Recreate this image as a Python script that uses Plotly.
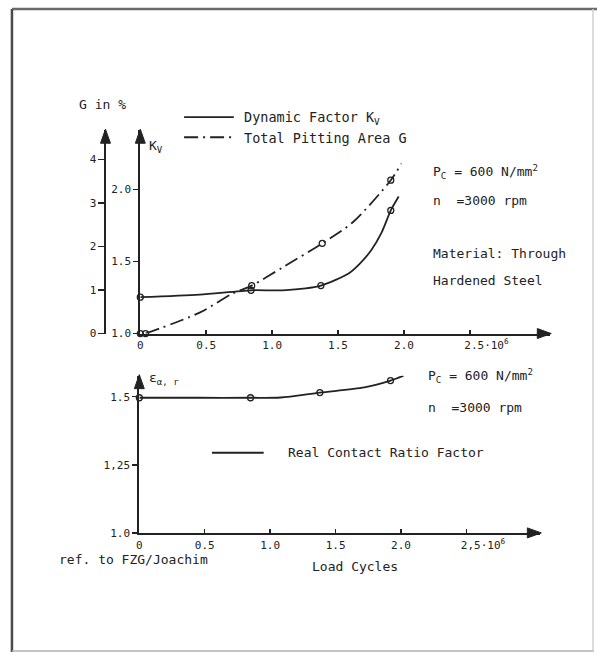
import plotly.graph_objects as go

W = 597
# the photographed page comes out ~1.2 % shorter vertically than laid out,
# so the layout is drawn a little taller to land on the reference positions
SY = 653 / 645.0
H = 661

# ---------------- data ----------------
# Top panel: dynamic factor Kv (left inner axis) and total pitting area G in % (outer axis)
kv_x = [0.0, 0.45, 0.84, 1.08, 1.37, 1.58, 1.66, 1.75, 1.83, 1.90, 1.96]
kv_y = [1.252, 1.27, 1.30, 1.30, 1.333, 1.417, 1.48, 1.576, 1.70, 1.854, 1.95]
kv_mx = [0.0, 0.84, 1.37, 1.90]
kv_my = [1.252, 1.30, 1.333, 1.854]

g_x = [0.04, 0.45, 0.70, 0.845, 1.08, 1.38, 1.61, 1.90, 1.98]
g_y = [0.0, 0.48, 0.92, 1.10, 1.52, 2.07, 2.55, 3.52, 3.90]
g_mx = [0.0, 0.04, 0.845, 1.38, 1.90]
g_my = [0.0, 0.0, 1.10, 2.07, 3.52]

# Bottom panel: real contact ratio factor
eps_x = [0.0, 0.45, 0.85, 1.08, 1.38, 1.72, 1.92, 2.02]
eps_y = [1.496, 1.496, 1.496, 1.497, 1.515, 1.534, 1.559, 1.577]
eps_mx = [0.0, 0.85, 1.38, 1.92]
eps_my = [1.496, 1.496, 1.515, 1.559]

x_tickvals = [0, 0.5, 1.0, 1.5, 2.0, 2.5]
x_ticktext_top = ["0", "0.5", "1.0", "1.5", "2.0",
                  "\u00a0\u00a0\u00a0\u00a0\u00a02.5\u00b710<sup>6</sup>"]
x_ticktext_bot = ["0", "0.5", "1.0", "1.5", "2.0",
                  "\u00a0\u00a0\u00a0\u00a0\u00a02,5\u00b710<sup>6</sup>"]
kv_tickvals = [1.0, 1.5, 2.0]
kv_ticktext = ["1.0", "1.5", "2.0"]
g_tickvals = [0, 1, 2, 3, 4]
g_ticktext = ["0", "1", "2", "3", "4"]
eps_tickvals = [1.0, 1.25, 1.5]
eps_ticktext = ["1.0", "1,25", "1.5"]

# ---------------- styling helpers ----------------
FONT = "DejaVu Sans Mono"
INK = "#222222"
TXT = "#222222"


def px(x):
    return x / W


def py(y):
    return 1 - y * SY / H


fig = go.Figure()

line_style = dict(color=INK, width=1.8)
marker_style = dict(symbol="circle-open", size=6, color=INK, line=dict(width=1.3, color=INK))
DASHDOT = "14px,5px,2px,5px"

fig.add_trace(go.Scatter(x=kv_x, y=kv_y, mode="lines", line=dict(**line_style, shape="spline", smoothing=0.7),
                         xaxis="x", yaxis="y", cliponaxis=False, showlegend=False))
fig.add_trace(go.Scatter(x=kv_mx, y=kv_my, mode="markers", marker=marker_style,
                         xaxis="x", yaxis="y", cliponaxis=False, showlegend=False))
fig.add_trace(go.Scatter(x=g_x, y=g_y, mode="lines",
                         line=dict(color=INK, width=1.8, dash=DASHDOT, shape="spline", smoothing=0.8),
                         xaxis="x", yaxis="y2", cliponaxis=False, showlegend=False))
fig.add_trace(go.Scatter(x=g_mx, y=g_my, mode="markers", marker=marker_style,
                         xaxis="x", yaxis="y2", cliponaxis=False, showlegend=False))
fig.add_trace(go.Scatter(x=eps_x, y=eps_y, mode="lines", line=dict(**line_style, shape="spline", smoothing=0.8),
                         xaxis="x2", yaxis="y3", cliponaxis=False, showlegend=False))
fig.add_trace(go.Scatter(x=eps_mx, y=eps_my, mode="markers", marker=marker_style,
                         xaxis="x2", yaxis="y3", cliponaxis=False, showlegend=False))

tickfont = dict(family=FONT, size=11, color=TXT)
axis_common = dict(showgrid=False, zeroline=False, showline=True, linecolor=INK, linewidth=2,
                   tickcolor=INK, tickwidth=1.5, tickfont=tickfont, tickmode="array", fixedrange=True)

top_y0, top_y1 = 333, 130
bot_y0, bot_y1 = 532, 375

fig.update_layout(
    width=W, height=H, autosize=False,
    margin=dict(l=0, r=0, t=0, b=0),
    paper_bgcolor="white", plot_bgcolor="rgba(0,0,0,0)",
    xaxis=dict(**axis_common, domain=[px(138), px(550)], range=[0, (550 - 138) / 132.5],
               anchor="y", tickvals=x_tickvals, ticktext=x_ticktext_top, ticks="inside", ticklen=4,
               ticklabelstandoff=0),
    yaxis=dict(**axis_common, domain=[py(top_y0), py(top_y1)], range=[1.0, 1 + (top_y0 - top_y1) / 144],
               anchor="x", tickvals=kv_tickvals, ticktext=kv_ticktext, ticks="outside", ticklen=5),
    yaxis2=dict(**axis_common, overlaying="y", anchor="free", position=px(103), side="left",
                range=[0, (top_y0 - top_y1) / 43.5], tickvals=g_tickvals, ticktext=g_ticktext,
                ticks="outside", ticklen=6),
    xaxis2=dict(**axis_common, domain=[px(137), px(540)], range=[0, (540 - 137) / 131.5],
                anchor="y3", tickvals=x_tickvals, ticktext=x_ticktext_bot, ticks="inside", ticklen=4,
                ticklabelstandoff=1),
    yaxis3=dict(**axis_common, domain=[py(bot_y0), py(bot_y1)], range=[1.0, 1 + (bot_y0 - bot_y1) / 272],
                anchor="x2", tickvals=eps_tickvals, ticktext=eps_ticktext, ticks="outside", ticklen=5),
)

shapes = []


def tri(tip, direction):
    x, y = tip
    if direction == "right":
        pts = [(x, y), (x - 14, y - 5), (x - 14, y + 5)]
    else:
        pts = [(x, y), (x - 5, y + 14), (x + 5, y + 14)]
    path = "M " + " L ".join(f"{px(a):.5f},{py(b):.5f}" for a, b in pts) + " Z"
    return dict(type="path", path=path, xref="paper", yref="paper",
                fillcolor=INK, line=dict(color=INK, width=1))


# axis arrowheads
shapes += [tri((551, 333), "right"), tri((138, 129), "up"), tri((103, 129), "up"),
           tri((541, 532), "right"), tri((137, 374), "up")]

# legend samples
shapes.append(dict(type="line", xref="paper", yref="paper", x0=px(182), x1=px(232), y0=py(117), y1=py(117),
                   line=dict(color=INK, width=1.8)))
shapes.append(dict(type="line", xref="paper", yref="paper", x0=px(182), x1=px(232), y0=py(137), y1=py(137),
                   line=dict(color=INK, width=1.8, dash=DASHDOT)))
shapes.append(dict(type="line", xref="paper", yref="paper", x0=px(210), x1=px(262), y0=py(452), y1=py(452),
                   line=dict(color=INK, width=1.8)))

# outer frame
shapes.append(dict(type="line", xref="paper", yref="paper", x0=px(9), x1=px(597), y0=py(9), y1=py(9),
                   line=dict(color="#6a6a6a", width=2.5)))
shapes.append(dict(type="line", xref="paper", yref="paper", x0=px(9), x1=px(9), y0=py(9), y1=py(651),
                   line=dict(color="#4a4a4a", width=2.5)))
shapes.append(dict(type="line", xref="paper", yref="paper", x0=px(9), x1=px(594), y0=py(650), y1=py(650),
                   line=dict(color="#b0b0b0", width=1.5)))
shapes.append(dict(type="line", xref="paper", yref="paper", x0=px(593), x1=px(593), y0=py(9), y1=py(650),
                   line=dict(color="#d0d0d0", width=1.5)))

fig.update_layout(shapes=shapes)


def note(text, x, y, anchor="left", size=13):
    return dict(text=text, x=px(x), y=py(y), xref="paper", yref="paper", showarrow=False,
                xanchor=anchor, yanchor="middle", font=dict(family=FONT, size=size, color=TXT))


fig.update_layout(annotations=[
    note("G in %", 100, 104, anchor="center"),
    note("K<sub>V</sub>", 145, 146),
    note("Dynamic Factor K<sub>V</sub>", 240, 118, size=13.5),
    note("Total Pitting Area G", 240, 138, size=13.5),
    note("P<sub>C</sub> = 600 N/mm<sup>2</sup>", 430, 172),
    note("n  =3000 rpm", 430, 200),
    note("Material: Through", 430, 253),
    note("Hardened Steel", 430, 280),
    note("\u03b5<sub>\u03b1, r</sub>", 145, 378),
    note("P<sub>C</sub> = 600 N/mm<sup>2</sup>", 425, 375),
    note("n  =3000 rpm", 425, 407),
    note("Real Contact Ratio Factor", 284, 452),
    note("ref. to FZG/Joachim", 54, 559),
    note("Load Cycles", 309, 566),
])

fig.write_html(
    "out.html",
    config={"displayModeBar": False, "responsive": False, "staticPlot": True},
    post_script="document.body.style.margin='0';document.body.style.overflow='hidden';",
)
